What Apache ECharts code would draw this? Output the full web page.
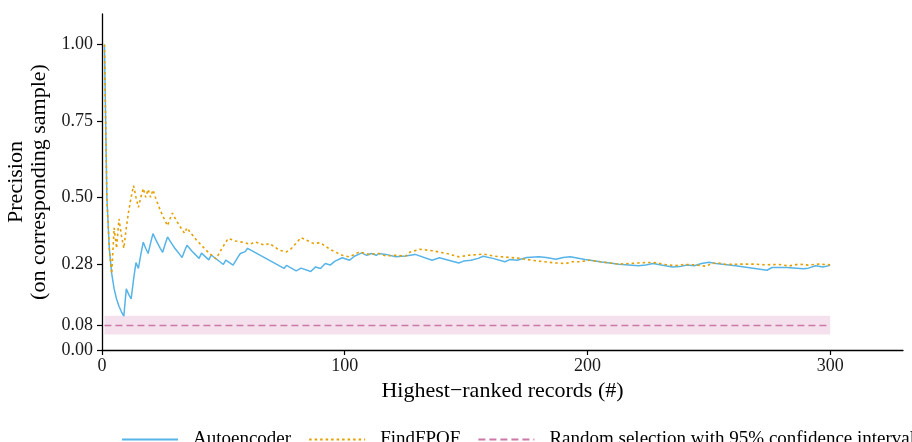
<!DOCTYPE html>
<html>
<head>
<meta charset="utf-8">
<script src="https://cdn.jsdelivr.net/npm/echarts@6/dist/echarts.min.js"></script>
<style>
  html, body { margin: 0; padding: 0; background: #fff; }
  #chart { width: 912px; height: 442px; }
</style>
</head>
<body>
<div id="chart"></div>
<script>
// ranks and running precision
var aeRanks = [1, 2, 3, 4, 5, 6, 7, 8, 9, 10, 11, 12, 13, 14, 15, 16, 17, 18, 19, 20,
  21, 22, 23, 24, 25, 26, 27, 28, 29, 30, 31, 32, 33, 34, 35, 37, 40, 41, 44, 45,
  50, 51, 54, 55, 56, 57, 59, 60, 75, 76, 80, 82, 86, 88, 90, 92, 94, 96, 99, 102,
  104, 107, 109, 111, 113, 114, 117, 121, 125, 129, 136, 139, 147, 149, 152, 155, 157, 161, 166, 168,
  171, 175, 180, 183, 187, 190, 193, 199, 206, 213, 221, 224, 227, 235, 238, 241, 244, 247, 250, 253,
  261, 274, 276, 282, 289, 291, 294, 297, 300]
var aeValues = [1.0, 0.5, 0.333, 0.25, 0.2, 0.167, 0.143, 0.125, 0.111, 0.2, 0.182, 0.167, 0.231, 0.286, 0.267, 0.313, 0.353, 0.333, 0.316, 0.35,
  0.381, 0.364, 0.348, 0.333, 0.32, 0.346, 0.37, 0.357, 0.345, 0.333, 0.323, 0.313, 0.303, 0.324, 0.343, 0.324, 0.30, 0.317, 0.295, 0.311,
  0.28, 0.294, 0.278, 0.291, 0.304, 0.316, 0.322, 0.333, 0.267, 0.277, 0.259, 0.268, 0.257, 0.272, 0.267, 0.283, 0.278, 0.291, 0.302, 0.294,
  0.307, 0.318, 0.31, 0.316, 0.31, 0.316, 0.313, 0.305, 0.308, 0.313, 0.294, 0.302, 0.285, 0.291, 0.294, 0.30, 0.307, 0.30, 0.289, 0.296,
  0.294, 0.303, 0.305, 0.303, 0.297, 0.303, 0.305, 0.296, 0.288, 0.281, 0.276, 0.278, 0.283, 0.272, 0.273, 0.278, 0.276, 0.283, 0.287, 0.283,
  0.276, 0.261, 0.27, 0.27, 0.266, 0.268, 0.276, 0.272, 0.277]

var fpRanks = [1, 2, 3, 4, 5, 6, 7, 8, 9, 10, 11, 12, 13, 14, 15, 16, 17, 18, 19, 20,
  21, 22, 23, 24, 25, 26, 27, 28, 29, 30, 31, 32, 33, 34, 35, 36, 39, 44, 47, 48,
  49, 50, 51, 52, 55, 57, 59, 61, 63, 65, 67, 69, 73, 76, 78, 82, 87, 90, 94, 99,
  102, 106, 110, 114, 117, 121, 125, 127, 131, 136, 142, 147, 151, 157, 162, 168, 172, 177, 182, 187,
  191, 194, 197, 201, 206, 213, 221, 227, 232, 236, 240, 244, 249, 251, 254, 257, 263, 269, 273, 279,
  283, 287, 291, 295, 300]
var fpValues = [1.0, 0.5, 0.333, 0.25, 0.4, 0.333, 0.429, 0.375, 0.333, 0.4, 0.455, 0.5, 0.538, 0.5, 0.467, 0.5, 0.529, 0.5, 0.526, 0.5,
  0.524, 0.5, 0.478, 0.458, 0.44, 0.423, 0.407, 0.429, 0.448, 0.433, 0.419, 0.406, 0.394, 0.382, 0.4, 0.389, 0.359, 0.318, 0.298, 0.313,
  0.327, 0.34, 0.353, 0.365, 0.357, 0.354, 0.351, 0.346, 0.354, 0.349, 0.343, 0.349, 0.327, 0.321, 0.332, 0.368, 0.349, 0.351, 0.329, 0.31,
  0.305, 0.321, 0.313, 0.316, 0.308, 0.31, 0.307, 0.321, 0.33, 0.325, 0.316, 0.305, 0.31, 0.314, 0.307, 0.303, 0.30, 0.294, 0.289, 0.285,
  0.283, 0.289, 0.289, 0.294, 0.288, 0.281, 0.285, 0.287, 0.28, 0.276, 0.28, 0.279, 0.274, 0.283, 0.285, 0.28, 0.281, 0.281, 0.279, 0.28,
  0.275, 0.281, 0.278, 0.281, 0.279]

// random selection baseline and its 95% interval
var randomRanks = [1, 300]
var randomRate = 0.08
var ciLow = 0.051
var ciHigh = 0.112

var xTicks = [0, 100, 200, 300]
var yTicks = [0, 0.08, 0.28, 0.5, 0.75, 1.0]

var seriesNames = ['Autoencoder', 'FindFPOF', 'Random selection with 95% confidence interval']

var font = 'Liberation Serif'
var chart = echarts.init(document.getElementById('chart'))

var pairs = function (xs, ys) {
  return xs.map(function (x, i) { return [x, ys[i]] })
}

var option = {
  animation: false,
  backgroundColor: '#fff',
  textStyle: { fontFamily: font },
  grid: { left: 102, right: 9, top: 14, bottom: 92, outerBoundsMode: 'none' },
  legend: {
    data: seriesNames,
    left: 116,
    top: 425,
    width: 1400,
    itemWidth: 56,
    itemHeight: 14,
    itemGap: 17,
    itemStyle: { opacity: 0 },
    textStyle: { fontFamily: font, fontSize: 19, color: '#000', padding: [0, 0, 0, 10] }
  },
  xAxis: {
    type: 'value',
    min: 0,
    max: 330,
    interval: 100,
    name: 'Highest\u2212ranked records (#)',
    nameLocation: 'middle',
    nameGap: 27,
    nameTextStyle: { fontFamily: font, fontSize: 22, color: '#000' },
    splitLine: { show: false },
    axisLine: { lineStyle: { color: '#000', width: 1.3 } },
    axisTick: { length: 5, lineStyle: { color: '#000', width: 1.2 }, customValues: xTicks },
    axisLabel: { fontFamily: font, fontSize: 18, color: '#1a1a1a', margin: 7, customValues: xTicks }
  },
  yAxis: {
    type: 'value',
    min: 0,
    max: 1.1,
    name: 'Precision\n(on corresponding sample)',
    nameLocation: 'middle',
    nameGap: 47,
    nameRotate: 90,
    nameTextStyle: { fontFamily: font, fontSize: 22, color: '#000', lineHeight: 23 },
    splitLine: { show: false },
    axisLine: { show: true, lineStyle: { color: '#000', width: 1.3 } },
    axisTick: { show: true, length: 5, lineStyle: { color: '#000', width: 1.2 }, customValues: yTicks },
    axisLabel: {
      fontFamily: font, fontSize: 18, color: '#1a1a1a', margin: 9, customValues: yTicks,
      formatter: function (v) { return v.toFixed(2) }
    }
  },
  series: [
    {
      name: seriesNames[2],
      type: 'line',
      symbol: 'none',
      z: 1,
      data: pairs(randomRanks, randomRanks.map(function () { return randomRate })),
      lineStyle: { color: '#CC79A7', width: 1.6, type: [7, 4] },
      itemStyle: { color: '#CC79A7' },
      markArea: {
        silent: true,
        itemStyle: { color: '#f5e1ed' },
        data: [[{ xAxis: randomRanks[0], yAxis: ciLow }, { xAxis: randomRanks[1], yAxis: ciHigh }]]
      }
    },
    {
      name: seriesNames[0],
      type: 'line',
      symbol: 'none',
      z: 3,
      data: pairs(aeRanks, aeValues),
      lineStyle: { color: '#56B4E9', width: 1.5 },
      itemStyle: { color: '#56B4E9' }
    },
    {
      name: seriesNames[1],
      type: 'line',
      symbol: 'none',
      z: 4,
      data: pairs(fpRanks, fpValues),
      lineStyle: { color: '#E69F00', width: 1.6, type: [2.5, 3] },
      itemStyle: { color: '#E69F00' }
    }
  ]
}

chart.setOption(option)
</script>
</body>
</html>
